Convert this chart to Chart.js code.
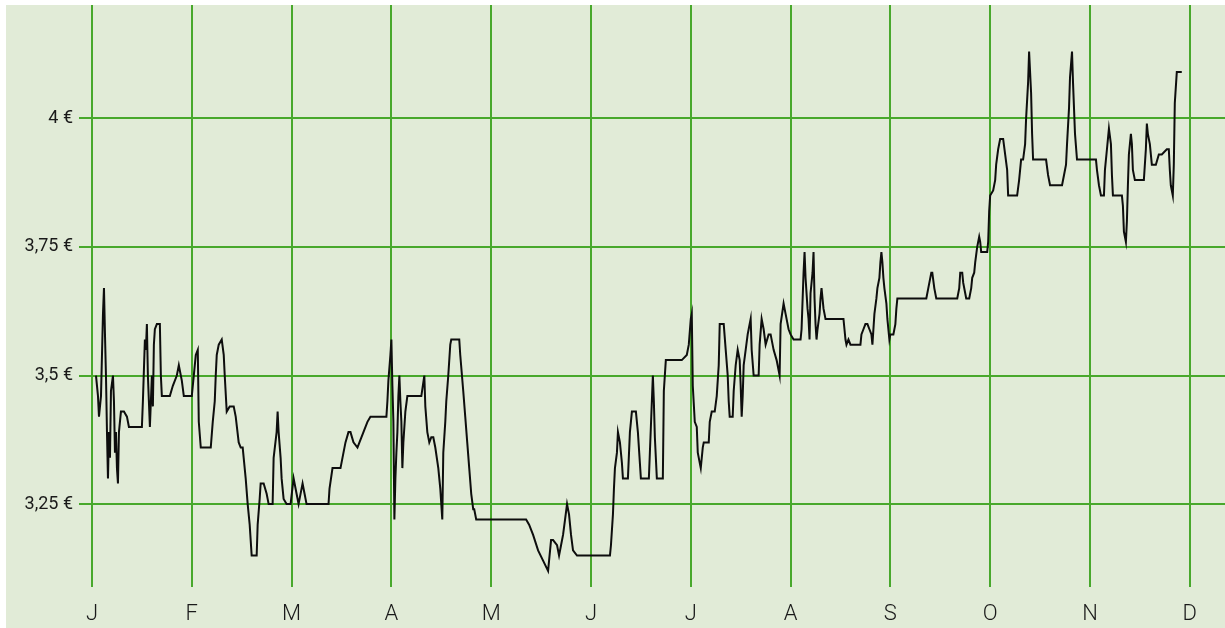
<!DOCTYPE html>
<html>
<head>
<meta charset="utf-8">
<script src="https://cdn.jsdelivr.net/npm/chart.js@4/dist/chart.umd.min.js"></script>
<style>
  html, body { margin: 0; padding: 0; background: #ffffff; }
  #wrap { position: absolute; left: 6px; top: 5px; width: 1219px; height: 623px; background: #e1ebd7; }
  canvas { display: block; }
</style>
</head>
<body>
<div id="wrap"><canvas id="c" width="1219" height="623"></canvas></div>
<script>
const monthLabels = ['J','F','M','A','M','J','J','A','S','O','N','D'];
const yTicks = [3.25, 3.5, 3.75, 4];

// position in months since start of January
const months = [
0.04,0.05,0.06,0.07,0.09,0.10,0.11,0.12,0.13,0.14,0.15,0.16,0.17,0.18,0.19,0.21,0.22,0.23,0.24,0.25,
0.26,0.27,0.29,0.32,0.35,0.37,0.50,0.51,0.53,0.54,0.55,0.56,0.57,0.58,0.60,0.61,0.62,0.63,0.65,0.68,
0.69,0.70,0.78,0.81,0.85,0.87,0.90,0.92,1.00,1.02,1.04,1.06,1.07,1.09,1.19,1.21,1.23,1.24,1.25,1.27,
1.30,1.32,1.33,1.35,1.38,1.42,1.44,1.47,1.49,1.51,1.52,1.54,1.56,1.58,1.60,1.65,1.66,1.68,1.69,1.72,
1.75,1.77,1.81,1.82,1.85,1.86,1.87,1.89,1.90,1.92,1.95,1.99,2.02,2.05,2.07,2.10,2.11,2.13,2.15,2.37,
2.38,2.41,2.49,2.52,2.54,2.57,2.59,2.62,2.66,2.68,2.72,2.76,2.79,2.95,2.96,2.97,2.99,3.00,3.01,3.02,
3.03,3.04,3.05,3.06,3.07,3.08,3.09,3.10,3.11,3.12,3.14,3.16,3.30,3.33,3.34,3.36,3.38,3.40,3.42,3.44,
3.47,3.49,3.50,3.51,3.52,3.54,3.55,3.57,3.59,3.60,3.68,3.69,3.72,3.74,3.76,3.78,3.80,3.82,3.83,3.85,
4.35,4.38,4.42,4.47,4.52,4.57,4.58,4.60,4.62,4.66,4.68,4.70,4.72,4.74,4.76,4.78,4.80,4.82,4.86,5.19,
5.20,5.22,5.23,5.24,5.26,5.27,5.29,5.31,5.32,5.37,5.39,5.41,5.45,5.47,5.50,5.58,5.59,5.61,5.62,5.63,
5.64,5.66,5.72,5.73,5.75,5.91,5.96,5.98,6.00,6.01,6.02,6.04,6.06,6.07,6.10,6.12,6.13,6.18,6.19,6.21,
6.24,6.26,6.28,6.29,6.33,6.35,6.37,6.38,6.39,6.42,6.43,6.45,6.47,6.49,6.50,6.51,6.52,6.53,6.55,6.57,
6.58,6.60,6.61,6.63,6.68,6.69,6.71,6.73,6.75,6.78,6.80,6.83,6.86,6.88,6.89,6.90,6.93,6.95,6.98,7.00,
7.03,7.10,7.11,7.13,7.14,7.15,7.17,7.18,7.19,7.20,7.22,7.23,7.24,7.25,7.26,7.27,7.29,7.30,7.31,7.33,
7.35,7.53,7.54,7.55,7.56,7.58,7.60,7.63,7.70,7.71,7.73,7.75,7.77,7.79,7.81,7.82,7.83,7.84,7.86,7.87,
7.89,7.90,7.91,7.92,7.93,7.94,7.96,7.97,7.99,8.00,8.03,8.05,8.06,8.07,8.36,8.38,8.40,8.41,8.42,8.44,
8.46,8.67,8.69,8.70,8.72,8.73,8.75,8.76,8.79,8.81,8.82,8.84,8.85,8.87,8.89,8.90,8.91,8.97,8.98,8.99,
9.00,9.03,9.05,9.06,9.08,9.10,9.13,9.15,9.17,9.18,9.27,9.29,9.31,9.33,9.35,9.36,9.38,9.39,9.41,9.42,
9.43,9.56,9.58,9.60,9.72,9.74,9.76,9.77,9.79,9.80,9.82,9.83,9.85,9.87,10.06,10.07,10.09,10.11,10.14,10.15,
10.17,10.18,10.19,10.21,10.22,10.23,10.32,10.33,10.34,10.36,10.37,10.38,10.39,10.41,10.42,10.43,10.45,10.54,10.56,10.57,
10.58,10.60,10.61,10.62,10.66,10.69,10.72,10.77,10.79,10.80,10.81,10.83,10.84,10.85,10.87,10.92
];

const prices = [
3.50,3.48,3.46,3.42,3.46,3.54,3.62,3.67,3.58,3.50,3.39,3.30,3.39,3.34,3.47,3.50,3.45,3.35,3.39,3.32,
3.29,3.39,3.43,3.43,3.42,3.40,3.40,3.45,3.57,3.55,3.60,3.50,3.45,3.40,3.50,3.44,3.56,3.59,3.60,3.60,
3.50,3.46,3.46,3.48,3.50,3.52,3.49,3.46,3.46,3.50,3.54,3.55,3.41,3.36,3.36,3.41,3.45,3.50,3.54,3.56,
3.57,3.54,3.50,3.43,3.44,3.44,3.42,3.37,3.36,3.36,3.34,3.30,3.25,3.21,3.15,3.15,3.21,3.26,3.29,3.29,
3.27,3.25,3.25,3.34,3.39,3.43,3.39,3.34,3.30,3.26,3.25,3.25,3.30,3.27,3.25,3.28,3.29,3.27,3.25,3.25,
3.28,3.32,3.32,3.35,3.37,3.39,3.39,3.37,3.36,3.37,3.39,3.41,3.42,3.42,3.45,3.49,3.54,3.57,3.48,3.41,
3.22,3.30,3.35,3.39,3.46,3.50,3.45,3.41,3.32,3.37,3.43,3.46,3.46,3.50,3.44,3.39,3.37,3.38,3.38,3.36,
3.32,3.28,3.25,3.22,3.35,3.41,3.45,3.50,3.56,3.57,3.57,3.54,3.47,3.42,3.37,3.32,3.27,3.24,3.24,3.22,
3.22,3.21,3.19,3.16,3.14,3.12,3.14,3.18,3.18,3.17,3.15,3.17,3.19,3.22,3.25,3.23,3.19,3.16,3.15,3.15,
3.17,3.23,3.28,3.32,3.35,3.39,3.37,3.33,3.30,3.30,3.39,3.43,3.43,3.39,3.30,3.30,3.35,3.45,3.50,3.45,
3.38,3.30,3.30,3.47,3.53,3.53,3.54,3.56,3.61,3.62,3.48,3.41,3.40,3.35,3.32,3.36,3.37,3.37,3.41,3.43,
3.43,3.46,3.52,3.60,3.60,3.55,3.50,3.45,3.42,3.42,3.47,3.52,3.55,3.53,3.48,3.42,3.46,3.52,3.55,3.58,
3.59,3.61,3.55,3.50,3.50,3.56,3.61,3.59,3.56,3.58,3.58,3.55,3.53,3.51,3.50,3.60,3.64,3.62,3.59,3.58,
3.57,3.57,3.59,3.70,3.74,3.69,3.63,3.61,3.57,3.66,3.70,3.74,3.65,3.60,3.57,3.59,3.62,3.65,3.67,3.63,
3.61,3.61,3.59,3.57,3.56,3.57,3.56,3.56,3.56,3.58,3.59,3.60,3.60,3.59,3.58,3.56,3.59,3.62,3.65,3.67,
3.69,3.72,3.74,3.72,3.69,3.67,3.64,3.61,3.57,3.58,3.58,3.60,3.63,3.65,3.65,3.67,3.69,3.70,3.70,3.67,
3.65,3.65,3.67,3.70,3.70,3.68,3.66,3.65,3.65,3.67,3.69,3.70,3.72,3.75,3.77,3.76,3.74,3.74,3.76,3.82,
3.85,3.86,3.88,3.91,3.94,3.96,3.96,3.93,3.90,3.85,3.85,3.88,3.92,3.92,3.95,4.00,4.07,4.13,4.05,3.97,
3.92,3.92,3.89,3.87,3.87,3.89,3.91,3.95,4.02,4.08,4.13,4.07,3.97,3.92,3.92,3.90,3.87,3.85,3.85,3.90,
3.94,3.96,3.98,3.95,3.89,3.85,3.85,3.83,3.78,3.76,3.80,3.87,3.93,3.97,3.95,3.90,3.88,3.88,3.94,3.99,
3.97,3.95,3.93,3.91,3.91,3.93,3.93,3.94,3.94,3.90,3.87,3.85,3.91,4.03,4.09,4.09
];

const GRID = '#48a82c';
const TEXT = '#1a1a1a';

const points = months.map((m, i) => ({ x: m, y: prices[i] }));

new Chart(document.getElementById('c'), {
  type: 'line',
  data: {
    datasets: [{
      data: points,
      borderColor: '#0d0d0d',
      borderWidth: 2,
      pointRadius: 0,
      tension: 0,
      fill: false
    }]
  },
  options: {
    responsive: false,
    animation: false,
    events: [],
    layout: { padding: 0 },
    plugins: { legend: { display: false }, tooltip: { enabled: false } },
    scales: {
      x: {
        type: 'linear',
        min: 0,
        max: 11.353,
        afterBuildTicks: s => { s.ticks = monthLabels.map((_, i) => ({ value: i })); },
        afterFit: s => { s.height = 41; s.paddingLeft = 0; s.paddingRight = 0; },
        ticks: {
          autoSkip: false,
          maxRotation: 0,
          padding: 14,
          color: TEXT,
          font: { family: 'Roboto', size: 22, weight: 300 },
          callback: v => monthLabels[v]
        },
        grid: { color: GRID, lineWidth: 2, drawTicks: false },
        border: { display: false }
      },
      y: {
        min: 3.0888,
        max: 4.2205,
        afterBuildTicks: s => { s.ticks = yTicks.map(v => ({ value: v })); },
        afterFit: s => { s.width = 86; s.paddingTop = 0; s.paddingBottom = 0; },
        ticks: {
          padding: 6,
          color: TEXT,
          font: { family: 'Roboto', size: 18, weight: 400 },
          callback: v => String(v).replace('.', ',') + ' €'
        },
        grid: { color: GRID, lineWidth: 2, tickLength: 13 },
        border: { display: false }
      }
    }
  }
});
</script>
</body>
</html>
